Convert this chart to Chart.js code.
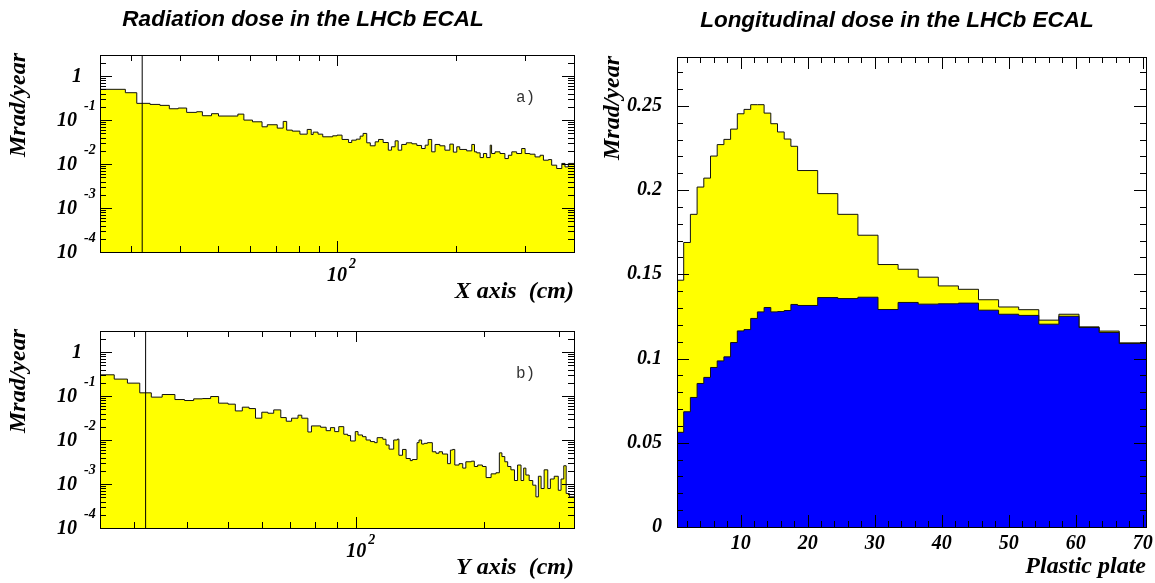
<!DOCTYPE html>
<html>
<head>
<meta charset="utf-8">
<script src="https://cdn.jsdelivr.net/npm/chart.js@4.4.1/dist/chart.umd.min.js"></script>
<style>
  body { margin: 0; background: #fff; }
  #wrap { position: relative; width: 1155px; height: 583px; }
  canvas { position: absolute; left: 0; top: 0; }
</style>
</head>
<body>
<div id="wrap">
  <canvas id="histX" width="1155" height="583"></canvas>
  <canvas id="histY" width="1155" height="583"></canvas>
  <canvas id="histPlate" width="1155" height="583"></canvas>
</div>
<script>
// ---- data ----
// a) dose along X (bin edges in cm, one value per bin)
const posEdgesX = [25, 29, 31, 33.5, 35.5, 37.5, 39.5, 41.5, 44, 45.5, 48, 50, 56, 58, 61, 64.5, 66.5, 70.5, 73, 74.5,
  77, 80.5, 84, 86, 87, 89.5, 92, 97.5, 100, 103, 107, 109, 112, 114.5, 116.5, 119, 121.5, 125, 127.5, 131,
  135, 137.5, 140.5, 143, 146, 150, 155, 159.5, 164, 167.5, 170.5, 174, 177.5, 182.5, 188, 193.5, 197.5, 201.5,
  205, 213.5, 220, 223.5, 226.5, 231, 235.5, 240, 245, 247, 252, 259.5, 267, 272.5, 278, 286, 294.5, 300.5,
  309, 318.5, 328, 334.5, 344.5, 351, 361.5, 372.5, 379.5, 387, 400];
const doseX = [0.498, 0.417, 0.239, 0.226, 0.215, 0.180, 0.187, 0.149, 0.154, 0.125, 0.139, 0.123, 0.136, 0.0995,
  0.091, 0.070, 0.078, 0.0654, 0.0928, 0.0589, 0.0559, 0.0477, 0.061, 0.0469, 0.053, 0.0477, 0.0415, 0.0437,
  0.0453, 0.0361, 0.0308, 0.0348, 0.0367, 0.0430, 0.0495, 0.0303, 0.0259, 0.0319, 0.0361, 0.0308, 0.0206,
  0.0246, 0.0336, 0.0206, 0.0278, 0.0303, 0.0288, 0.0264, 0.0225, 0.0268, 0.0361, 0.0189, 0.0278, 0.0259,
  0.0206, 0.0283, 0.0186, 0.0246, 0.0214, 0.0199, 0.0278, 0.0189, 0.0179, 0.0140, 0.0173, 0.0140, 0.0268,
  0.0173, 0.0189, 0.0173, 0.0133, 0.0158, 0.0189, 0.0173, 0.0225, 0.0173, 0.0167, 0.0145, 0.0158, 0.0122,
  0.0126, 0.0094, 0.0079, 0.0103, 0.0086, 0.0103];

// b) dose along Y
const posEdgesY = [25, 27, 29, 31, 33, 35, 37.5, 39.5, 41.5, 43.5, 45.5, 47.5, 50, 52, 54, 56, 58, 60, 62, 64,
  66.5, 68.5, 70.5, 73, 74.5, 77, 78.5, 82.5, 85, 87, 89, 91, 93.5, 95.5, 97, 99.5, 101, 103.5, 105.5, 108,
  110.5, 112, 115.5, 117.5, 119.5, 122.5, 125, 126, 128.5, 131, 134, 135.5, 139, 140.5, 142.5, 144.5, 147,
  151, 154, 156.5, 159.5, 164, 166.5, 168.5, 170.5, 174.5, 178, 181, 186.5, 189.5, 193, 198, 202, 207.5, 213,
  217, 220, 223.5, 227, 231, 235.5, 239.5, 244, 247.5, 250.5, 255, 260, 264.5, 268, 272, 276.5, 282, 286,
  292, 298.5, 303, 307.5, 311.5, 317, 325];
const doseY = [0.303, 0.242, 0.196, 0.118, 0.0942, 0.108, 0.0831, 0.0789, 0.0861, 0.0875, 0.0972, 0.0687,
  0.0652, 0.0458, 0.0557, 0.0518, 0.0313, 0.0428, 0.0406, 0.0483, 0.0323, 0.0267, 0.0313, 0.0366, 0.0313,
  0.0152, 0.0209, 0.0195, 0.0163, 0.0191, 0.0155, 0.0201, 0.0135, 0.0126, 0.0095, 0.0155, 0.0130, 0.0119,
  0.0100, 0.0092, 0.0087, 0.0113, 0.0104, 0.0077, 0.0062, 0.0100, 0.0105, 0.0045, 0.0061, 0.0038, 0.0034,
  0.0036, 0.0087, 0.0100, 0.0081, 0.0084, 0.0087, 0.0054, 0.0050, 0.0054, 0.0048, 0.0029, 0.0059, 0.0061,
  0.0027, 0.0029, 0.0023, 0.0032, 0.0033, 0.0025, 0.0027, 0.0025, 0.0014, 0.0017, 0.0018, 0.0051, 0.0042,
  0.0032, 0.0025, 0.0021, 0.0012, 0.0027, 0.0012, 0.0023, 0.0016, 0.0012, 0.00094, 0.00051, 0.0015, 0.00079,
  0.0021, 0.00079, 0.0013, 0.0015, 0.00072, 0.0013, 0.0026, 0.00061, 0.00051];

const holeEdge = 32; // cm, vertical marker line in a) and b)

// longitudinal dose per plastic plate
const plateEdges = [0.5, 1.5, 2.5, 3.5, 4.5, 5.5, 6.5, 7.5, 8.5, 9.5, 10.5, 11.5, 12.5, 13.5, 14.5, 15.5, 16.5,
  17.5, 18.5, 21.5, 24.5, 27.5, 30.5, 33.5, 36.5, 39.5, 42.5, 45.5, 48.5, 51.5, 54.5, 57.5, 60.5, 63.5, 66.5, 70.5];
const plateDoseAll = [0.1465, 0.1689, 0.1856, 0.2018, 0.2071, 0.2202, 0.2270, 0.2301, 0.2362, 0.2453, 0.2479,
  0.2507, 0.2507, 0.2457, 0.2394, 0.2345, 0.2303, 0.2260, 0.2116, 0.1979, 0.1856, 0.1732, 0.1558, 0.1530,
  0.1483, 0.1431, 0.1411, 0.1349, 0.1306, 0.1290, 0.1228, 0.1263, 0.1188, 0.1163, 0.1093];
const plateDosePart = [0.0562, 0.0684, 0.0769, 0.0852, 0.0888, 0.0947, 0.0986, 0.1010, 0.1095, 0.1164, 0.1172,
  0.1238, 0.1277, 0.1303, 0.1277, 0.1279, 0.1285, 0.1321, 0.1315, 0.1362, 0.1356, 0.1364, 0.1291, 0.1333,
  0.1323, 0.1325, 0.1329, 0.1287, 0.1263, 0.1256, 0.1204, 0.1251, 0.1184, 0.1155, 0.1089];

// tick labels
const doseLogTicks = [1e-4, 1e-3, 1e-2, 1e-1, 1];
const doseLogLabels = ['10^-4', '10^-3', '10^-2', '10^-1', '1'];
const posMinorTicks = [30, 40, 50, 60, 70, 80, 90, 200, 300];
const posMajorTicks = [100];
const posLabels = ['10^2'];
const plateTicks = [10, 20, 30, 40, 50, 60, 70];
const plateDoseTicks = [0, 0.05, 0.1, 0.15, 0.2, 0.25];
const plateDoseLabels = ['0', '0.05', '0.1', '0.15', '0.2', '0.25'];

// ---- drawing ----
const W = 1155, H = 583;
const serif = "'Liberation Serif', 'DejaVu Serif', serif";
const sans = "'Liberation Sans', Arial, sans-serif";

function histPoints(edges, vals) {
  const pts = vals.map((v, i) => ({ x: edges[i], y: v }));
  pts.push({ x: edges[edges.length - 1], y: vals[vals.length - 1] });
  return pts;
}

function padFor(f) {
  return { left: f.l, top: f.t, right: W - f.r, bottom: H - f.b };
}

function drawPow(ctx, label, x, y, align) {
  // label like "10^-1" -> base + raised exponent
  const parts = label.split('^');
  ctx.textBaseline = 'middle';
  if (parts.length === 1) {
    ctx.font = 'bold italic 20px ' + serif;
    ctx.textAlign = align === 'center' ? 'center' : 'right';
    ctx.fillText(parts[0], align === 'center' ? x : x + 5, y + 1);
    return;
  }
  ctx.font = 'bold italic 20px ' + serif;
  let bx;
  if (align === 'center') {
    ctx.textAlign = 'center';
    ctx.fillText(parts[0], x, y + 24);
    bx = x + ctx.measureText(parts[0]).width / 2 + 2;
    ctx.font = 'bold italic 14px ' + serif;
    ctx.textAlign = 'left';
    ctx.fillText(parts[1], bx, y + 12);
  } else {
    ctx.textAlign = 'right';
    ctx.fillText(parts[0], x, y + 1);
    ctx.font = 'bold italic 14px ' + serif;
    ctx.textAlign = 'left';
    ctx.fillText(parts[1], x + 7, y - 14);
  }
}

function tickLines(ctx, chart, xt, yt) {
  const a = chart.chartArea, xs = chart.scales.x, ys = chart.scales.y;
  ctx.beginPath();
  xt.forEach(t => {
    const p = Math.round(xs.getPixelForValue(t[0])) + 0.5;
    ctx.moveTo(p, a.bottom); ctx.lineTo(p, a.bottom - t[1]);
    ctx.moveTo(p, a.top); ctx.lineTo(p, a.top + t[1]);
  });
  yt.forEach(t => {
    const p = Math.round(ys.getPixelForValue(t[0])) + 0.5;
    ctx.moveTo(a.left, p); ctx.lineTo(a.left + t[1], p);
    ctx.moveTo(a.right, p); ctx.lineTo(a.right - t[1], p);
  });
  ctx.stroke();
  ctx.strokeRect(Math.round(a.left) + 0.5, Math.round(a.top) + 0.5,
    Math.round(a.right - a.left), Math.round(a.bottom - a.top));
}

function vertText(ctx, txt, x, y) {
  ctx.save();
  ctx.translate(x, y);
  ctx.rotate(-Math.PI / 2);
  ctx.font = 'bold italic 24px ' + serif;
  ctx.textAlign = 'center';
  ctx.textBaseline = 'middle';
  ctx.fillText(txt, 0, 0);
  ctx.restore();
}

const logPanel = {
  id: 'logPanel',
  afterDraw(chart, args, o) {
    const ctx = chart.ctx, a = chart.chartArea, xs = chart.scales.x, ys = chart.scales.y;
    ctx.save();
    ctx.strokeStyle = '#000'; ctx.fillStyle = '#000'; ctx.lineWidth = 1;
    const yt = [];
    doseLogTicks.forEach(d => {
      yt.push([d, 12]);
      for (let k = 2; k <= 9; k++) if (d * k <= ys.max) yt.push([d * k, 6]);
    });
    const xt = posMinorTicks.map(v => [v, 6]).concat(posMajorTicks.map(v => [v, 11]));
    tickLines(ctx, chart, xt, yt);
    doseLogTicks.forEach((d, i) => drawPow(ctx, doseLogLabels[i], 77, ys.getPixelForValue(d), 'right'));
    posMajorTicks.forEach((v, i) => drawPow(ctx, posLabels[i], xs.getPixelForValue(v), a.bottom, 'center'));
    ctx.font = 'bold italic 24px ' + serif;
    ctx.textAlign = 'right'; ctx.textBaseline = 'middle';
    ctx.fillText(o.xTitle, a.right, a.bottom + 40);
    vertText(ctx, 'Mrad/year', 19, a.top + 50);
    ctx.fillStyle = '#333';
    ctx.font = '16px ' + "'Liberation Mono', monospace";
    ctx.textAlign = 'left';
    ctx.fillText(o.tag, 516, a.top + 43);
    ctx.fillStyle = '#000';
    if (o.title) {
      ctx.font = 'bold italic 22.5px ' + sans;
      ctx.textAlign = 'center';
      ctx.fillText(o.title, 303, 20);
    }
    ctx.restore();
  }
};

function logChart(id, frame, edges, vals, xMax, xTitle, tag, title) {
  new Chart(document.getElementById(id), {
    type: 'scatter',
    data: {
      datasets: [{
        data: [{ x: holeEdge, y: 1e-4 }, { x: holeEdge, y: 3 }],
        showLine: true, fill: false, borderColor: '#000', borderWidth: 1, pointRadius: 0, order: 0
      }, {
        data: histPoints(edges, vals),
        showLine: true, stepped: true, fill: 'start',
        backgroundColor: '#ffff00', borderColor: '#111', borderWidth: 1, pointRadius: 0, order: 1
      }]
    },
    options: {
      responsive: false, animation: false, devicePixelRatio: 1,
      layout: { padding: padFor(frame) },
      scales: {
        x: { type: 'logarithmic', min: 25, max: xMax, display: false },
        y: { type: 'logarithmic', min: 1e-4, max: 3, display: false }
      },
      plugins: {
        legend: { display: false }, tooltip: { enabled: false },
        logPanel: { xTitle: xTitle, tag: tag, title: title }
      }
    },
    plugins: [logPanel]
  });
}

logChart('histX', { l: 100, t: 55, r: 574, b: 252 }, posEdgesX, doseX, 400, 'X axis  (cm)', 'a)',
  'Radiation dose in the LHCb ECAL');
logChart('histY', { l: 100, t: 331, r: 574, b: 528 }, posEdgesY, doseY, 325, 'Y axis  (cm)', 'b)', null);

const platePanel = {
  id: 'platePanel',
  afterDraw(chart) {
    const ctx = chart.ctx, a = chart.chartArea, xs = chart.scales.x, ys = chart.scales.y;
    ctx.save();
    ctx.strokeStyle = '#000'; ctx.fillStyle = '#000'; ctx.lineWidth = 1;
    const xt = [], yt = [];
    for (let v = 2; v <= 70; v += 2) xt.push([v, v % 10 === 0 ? 12 : 6]);
    for (let v = 0.01; v < ys.max; v += 0.01) {
      const r = Math.round(v * 100);
      yt.push([r / 100, r % 5 === 0 ? 12 : 6]);
    }
    tickLines(ctx, chart, xt, yt);
    ctx.font = 'bold italic 20px ' + serif;
    ctx.textBaseline = 'middle';
    ctx.textAlign = 'right';
    plateDoseTicks.forEach((v, i) => ctx.fillText(plateDoseLabels[i], 662, ys.getPixelForValue(v)));
    ctx.textAlign = 'center';
    plateTicks.forEach(v => ctx.fillText(String(v), xs.getPixelForValue(v), a.bottom + 17));
    ctx.font = 'bold italic 24px ' + serif;
    ctx.textAlign = 'right';
    ctx.fillText('Plastic plate', a.right, a.bottom + 40);
    vertText(ctx, 'Mrad/year', 613, a.top + 51);
    ctx.font = 'bold italic 22.5px ' + sans;
    ctx.textAlign = 'center';
    ctx.fillText('Longitudinal dose in the LHCb ECAL', 897, 21);
    ctx.restore();
  }
};

new Chart(document.getElementById('histPlate'), {
  type: 'scatter',
  data: {
    datasets: [{
      label: 'part',
      data: histPoints(plateEdges, plateDosePart),
      showLine: true, stepped: true, fill: 'origin',
      backgroundColor: '#0000ff', borderColor: '#111', borderWidth: 1, pointRadius: 0
    }, {
      label: 'all',
      data: histPoints(plateEdges, plateDoseAll),
      showLine: true, stepped: true, fill: 'origin',
      backgroundColor: '#ffff00', borderColor: '#111', borderWidth: 1, pointRadius: 0
    }]
  },
  options: {
    responsive: false, animation: false, devicePixelRatio: 1,
    layout: { padding: padFor({ l: 677, t: 57, r: 1146, b: 527 }) },
    scales: {
      x: { type: 'linear', min: 0.5, max: 70.5, display: false },
      y: { type: 'linear', min: 0, max: 0.279, display: false }
    },
    plugins: { legend: { display: false }, tooltip: { enabled: false } }
  },
  plugins: [platePanel]
});
</script>
</body>
</html>
